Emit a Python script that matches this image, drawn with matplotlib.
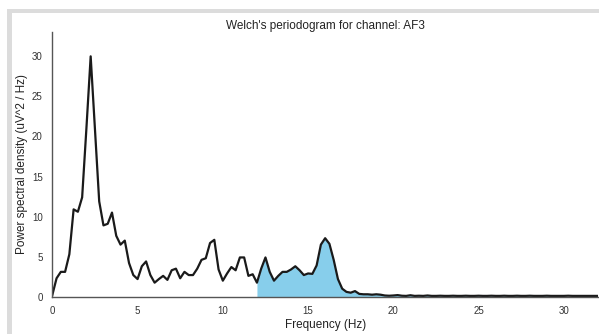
import numpy as np
import matplotlib
matplotlib.use("Agg")
import matplotlib.pyplot as plt
from matplotlib.patches import Rectangle

# frequency bins (0.25 Hz resolution) and PSD values
freq_step = 0.25
psd = [
    0.2, 2.3, 3.1, 3.1, 5.3, 10.9, 10.6, 12.4,      # 0 - 1.75
    21.0, 30.0, 21.0, 11.9, 8.9, 9.1, 10.5, 7.6,    # 2 - 3.75
    6.5, 7.0, 4.2, 2.7, 2.2, 3.8, 4.4, 2.7,         # 4 - 5.75
    1.75, 2.2, 2.6, 2.1, 3.3, 3.5, 2.3, 3.1,        # 6 - 7.75
    2.7, 2.7, 3.5, 4.6, 4.8, 6.7, 7.1, 3.4,         # 8 - 9.75
    2.0, 2.9, 3.7, 3.3, 4.9, 4.9, 2.6, 2.8,         # 10 - 11.75
    1.75, 3.5, 4.9, 3.1, 2.0, 2.6, 3.1, 3.1,        # 12 - 13.75
    3.4, 3.8, 3.3, 2.7, 2.9, 2.85, 3.9, 6.5,        # 14 - 15.75
    7.3, 6.6, 4.6, 2.2, 1.0, 0.6, 0.5, 0.7,         # 16 - 17.75
    0.35, 0.3, 0.3, 0.25, 0.3, 0.25, 0.15, 0.12,    # 18 - 19.75
    0.15, 0.2, 0.12, 0.1, 0.18, 0.1, 0.12, 0.1,     # 20 - 21.75
    0.15, 0.1, 0.1, 0.12, 0.1, 0.1, 0.12, 0.1,      # 22 - 23.75
    0.1, 0.12, 0.1, 0.1, 0.12, 0.1, 0.1, 0.12,      # 24 - 25.75
    0.1, 0.1, 0.12, 0.1, 0.1, 0.12, 0.1, 0.1,       # 26 - 27.75
    0.12, 0.1, 0.1, 0.1, 0.12, 0.1, 0.1, 0.1,       # 28 - 29.75
    0.1, 0.12, 0.1, 0.1, 0.1, 0.1, 0.1, 0.1, 0.1,   # 30 - 32
]
freqs = np.arange(len(psd)) * freq_step
psd = np.array(psd)
band = [12, 30]
channel = "AF3"

plt.rcParams["font.family"] = ["Liberation Sans", "DejaVu Sans"]

fig = plt.figure(figsize=(5.99, 3.34), dpi=100)
W, H = 599, 334

# grey screenshot frame (top and left)
gray = "#dcdcdc"
fig.patches.append(Rectangle((7 / W, 0), 5 / W, 1 - 9 / H, transform=fig.transFigure,
                             facecolor=gray, edgecolor="none", zorder=-10))
fig.patches.append(Rectangle((7 / W, 1 - 13 / H), 1 - 7 / W, 4 / H, transform=fig.transFigure,
                             facecolor=gray, edgecolor="none", zorder=-10))

ax = fig.add_axes([52.3 / W, 1 - 296.7 / H, (598 - 52.3) / W, (296.7 - 32.3) / H])

idx_band = (freqs >= band[0]) & (freqs <= band[1])
ax.fill_between(freqs, psd, where=idx_band, color="skyblue", linewidth=0, zorder=1)
ax.plot(freqs, psd, lw=1.6, color="#1a1a1a", zorder=2)

ax.set_xlim(0, freqs.max())
ax.set_ylim(0, psd.max() * 1.1)
ax.set_xticks([0, 5, 10, 15, 20, 25, 30])
ax.set_yticks([0, 5, 10, 15, 20, 25, 30])
ax.tick_params(length=0, labelsize=7, colors="#333333", pad=7)

for s in ["top", "right"]:
    ax.spines[s].set_visible(False)
for s in ["left", "bottom"]:
    ax.spines[s].set_color("#555555")
    ax.spines[s].set_linewidth(1.0)

ax.set_xlabel("Frequency (Hz)", fontsize=8.5, color="#222222", labelpad=2)
ax.set_ylabel("Power spectral density (uV^2 / Hz)", fontsize=8.5, color="#222222")
ax.yaxis.set_label_coords((28 - 52.3) / (598 - 52.3), 0.5)
ax.set_title(f"Welch's periodogram for channel: {channel}", fontsize=8.5, color="#222222", pad=2.5)

fig.savefig("out.png", dpi=100)
